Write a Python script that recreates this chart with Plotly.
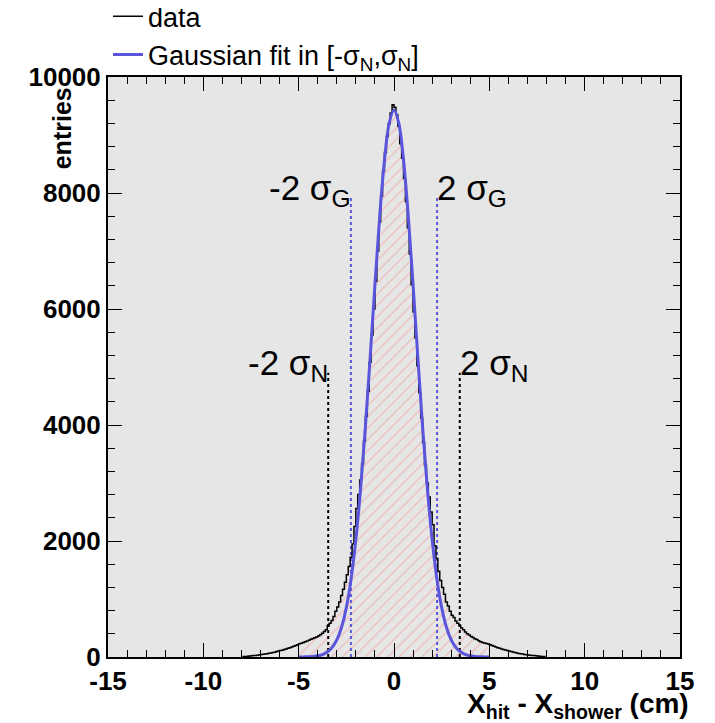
import plotly.graph_objects as go

# Histogram: bin centres (0.1 cm bins from -8 to 8) and entries
BIN_CENTERS = [round(-7.95 + 0.1 * i, 2) for i in range(160)]
ENTRIES = [
    4, 8, 10, 14, 17, 20, 24, 28, 31, 37,
    41, 46, 50, 58, 63, 70, 78, 84, 95, 104,
    112, 118, 130, 138, 150, 158, 172, 185, 200, 212,
    228, 238, 250, 262, 278, 290, 305, 318, 330, 345,
    362, 385, 410, 440, 470, 540, 580, 630, 700, 790,
    860, 950, 1060, 1170, 1290, 1420, 1560, 1720, 1950, 2250,
    2560, 2800, 3050, 3330, 3720, 4150, 4580, 5080, 5550, 6000,
    6480, 7000, 7500, 7950, 8380, 8700, 8980, 9200, 9380, 9520,
    9480, 9350, 9150, 8850, 8600, 8250, 7850, 7400, 6950, 6420,
    5950, 5500, 5020, 4560, 4120, 3700, 3300, 3000, 2760, 2500,
    2280, 1920, 1700, 1480, 1320, 1200, 1080, 950, 880, 790,
    720, 680, 620, 580, 545, 500, 470, 430, 400, 380,
    355, 335, 315, 300, 280, 265, 250, 240, 232, 222,
    210, 198, 185, 172, 160, 150, 140, 128, 120, 110,
    102, 95, 85, 78, 70, 62, 56, 50, 45, 40,
    36, 31, 27, 24, 20, 17, 13, 10, 7, 4,
]

# Gaussian fit curve, sampled every 0.25 cm on [-5, 5]
FIT_X = [round(-5 + 0.25 * i, 2) for i in range(41)]
FIT_HALF = [9430, 9205, 8565, 7595, 6418, 5170, 3968, 2903, 2024, 1345,
            851, 514, 295, 162, 85, 42, 20, 9, 4, 2, 1]
FIT_Y = FIT_HALF[::-1] + FIT_HALF[1:]

# Marker lines
SIGMA_N_X = [-3.45, 3.45]
SIGMA_N_TOP = 4900
SIGMA_G_X = [-2.26, 2.26]
SIGMA_G_TOP = 7930

X_TICKS = [-15, -10, -5, 0, 5, 10, 15]
X_TICK_TEXT = ["-15", "-10", "-5", "0", "5", "10", "15"]

FIT_BLUE = "#5a56dc"
FONT = "Liberation Sans, Arial, sans-serif"

fig = go.Figure()

# hatched region under the data in [-5, 5]
hx = [x for x in BIN_CENTERS if -5 < x < 5]
hy = [y for x, y in zip(BIN_CENTERS, ENTRIES) if -5 < x < 5]
fig.add_trace(go.Scatter(
    x=hx, y=hy, mode="lines", line=dict(width=0, shape="hvh"),
    fill="tozeroy", fillcolor="rgba(0,0,0,0)",
    fillpattern=dict(shape="/", fgcolor="#f29a9a", bgcolor="rgba(0,0,0,0)",
                     size=8, solidity=0.18),
    showlegend=False, hoverinfo="skip",
))

for xs, top, color in [(SIGMA_N_X, SIGMA_N_TOP, "black"), (SIGMA_G_X, SIGMA_G_TOP, FIT_BLUE)]:
    for xv in xs:
        fig.add_trace(go.Scatter(
            x=[xv, xv], y=[0, top], mode="lines",
            line=dict(color=color, width=2, dash="dot"),
            showlegend=False, hoverinfo="skip",
        ))

fig.add_trace(go.Scatter(
    x=BIN_CENTERS, y=ENTRIES, mode="lines", name="data",
    line=dict(color="black", width=1.5, shape="hvh"),
))
fig.add_trace(go.Scatter(
    x=FIT_X, y=FIT_Y, mode="lines",
    name="Gaussian fit in [-σ<sub>N</sub>,σ<sub>N</sub>]",
    line=dict(color=FIT_BLUE, width=3, shape="spline"),
))

labels = [
    (-2.26, 7950, "-2 σ<sub>G</sub>", "right"),
    (2.26, 7950, "2 σ<sub>G</sub>", "left"),
    (-3.45, 4930, "-2 σ<sub>N</sub>", "right"),
    (3.45, 4930, "2 σ<sub>N</sub>", "left"),
]
for xv, yv, txt, anchor in labels:
    fig.add_annotation(x=xv, y=yv, text=txt, showarrow=False, xanchor=anchor,
                       yanchor="middle", xshift=2 if anchor == "right" else -2, yshift=6,
                       font=dict(size=35, color="black", family=FONT))

fig.add_annotation(
    xref="paper", yref="paper", x=1.02, y=-0.084, xanchor="right", yanchor="middle",
    text="X<sub>hit</sub> - X<sub>shower</sub> (cm)", showarrow=False,
    font=dict(size=28, color="black", family=FONT, weight="bold"),
)
fig.add_annotation(
    xref="paper", yref="paper", x=-0.08, y=0.912, textangle=-90,
    xanchor="center", yanchor="middle",
    text="entries", showarrow=False,
    font=dict(size=25, color="black", family=FONT, weight="bold"),
)

axis_common = dict(
    showline=True, linewidth=2, linecolor="black", mirror="ticks",
    ticks="inside", ticklen=14, tickwidth=1, tickcolor="black",
    showgrid=False, zeroline=False,
    tickfont=dict(size=26, color="black", family=FONT, weight="bold"),
)
fig.update_xaxes(range=[-15, 15], tickvals=X_TICKS, ticktext=X_TICK_TEXT,
                 minor=dict(ticks="inside", dtick=1, ticklen=7, tickcolor="black", showgrid=False),
                 **axis_common)
fig.update_yaxes(range=[0, 10000], dtick=2000, tickformat="d",
                 minor=dict(ticks="inside", dtick=400, ticklen=7, tickcolor="black", showgrid=False),
                 **axis_common)

fig.update_layout(
    width=715, height=723,
    margin=dict(l=100, r=43, t=69, b=74, autoexpand=False),
    paper_bgcolor="white", plot_bgcolor="#e6e6e6",
    font=dict(family=FONT, color="black"),
    legend=dict(x=0.0, y=1.146, xanchor="left", yanchor="top",
                bgcolor="rgba(0,0,0,0)", font=dict(size=27, family=FONT),
                tracegroupgap=0, itemwidth=30),
)

fig.write_html("out.html")
